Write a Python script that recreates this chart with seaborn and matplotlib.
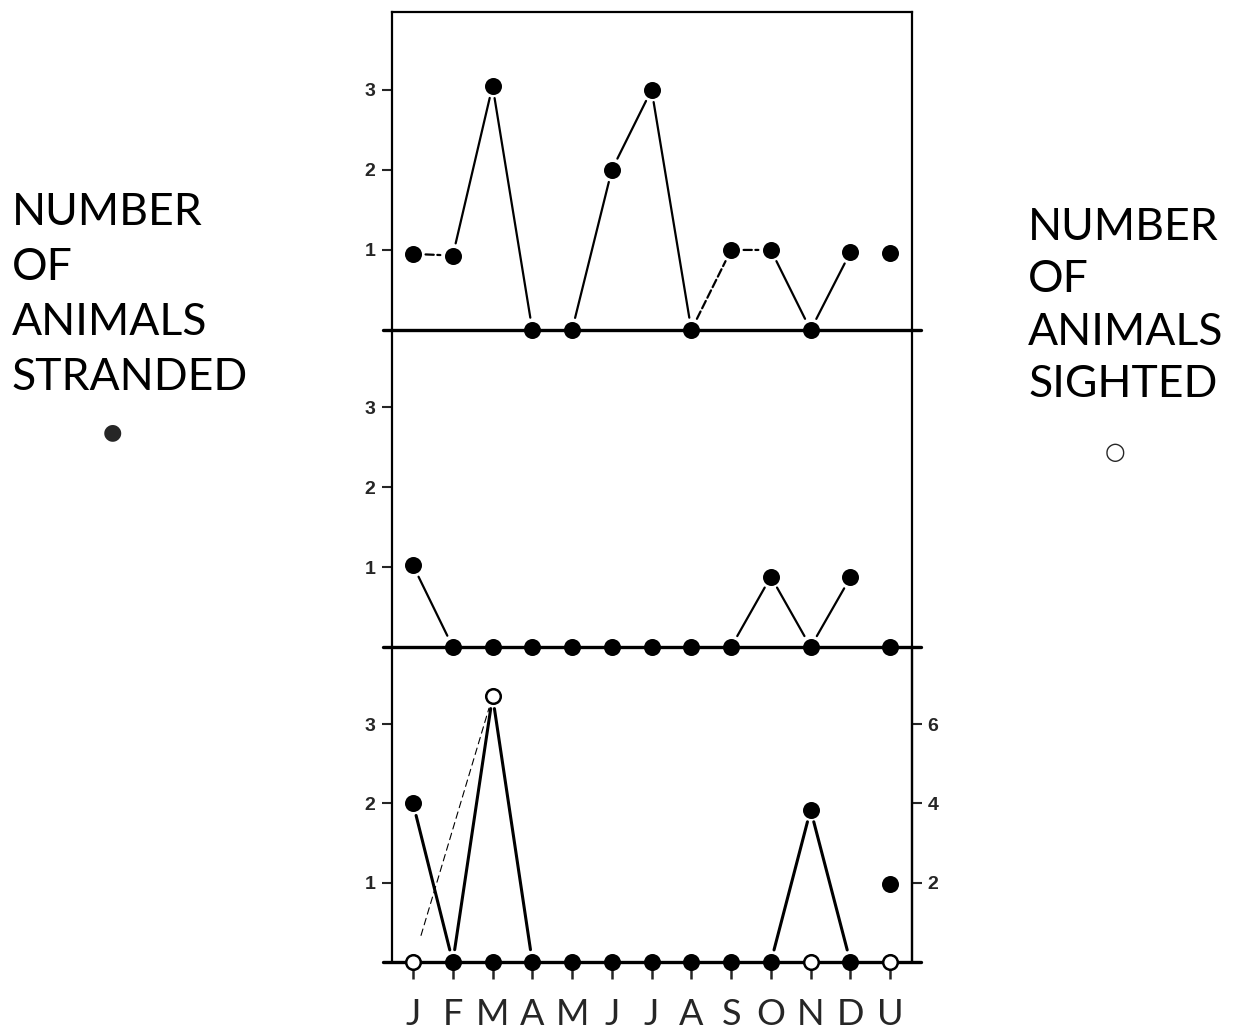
import matplotlib
matplotlib.use("Agg")
import matplotlib.pyplot as plt
import seaborn as sns
import numpy as np
import pandas as pd

# values
months = ['J', 'F', 'M', 'A', 'M', 'J', 'J', 'A', 'S', 'O', 'N', 'D', 'U']
stranded_top = [0.95, 0.93, 3.05, 0, 0, 2.0, 3.0, 0, 1.0, 1.0, 0, 0.97, 0.96]
stranded_mid = [1.02, 0, 0, 0, 0, 0, 0, 0, 0, 0.88, 0, 0.87, 0]
stranded_bot = [2.0, 0, 0, 0, 0, 0, 0, 0, 0, 0, 1.92, 0, 0.98]
sighted_bot = [0, np.nan, 6.7, np.nan, np.nan, np.nan, np.nan, np.nan, np.nan, np.nan, 0, np.nan, 0]

# which neighbouring points are joined (start index, end index, style)
links_top = [(0, 1, '--'), (1, 2, '-'), (2, 3, '-'), (4, 5, '-'), (5, 6, '-'),
             (6, 7, '-'), (7, 8, '--'), (8, 9, '--'), (9, 10, '-'), (10, 11, '-')]
links_mid = [(0, 1, '-'), (8, 9, '-'), (9, 10, '-'), (10, 11, '-')]
links_bot = [(0, 1, '-'), (9, 10, '-'), (10, 11, '-')]

sns.set_style("white")
plt.rcParams['font.family'] = ['Lato', 'DejaVu Sans']

fig = plt.figure(figsize=(12.6, 10.31), dpi=100)
L, W = 0.3111, 0.4127
ax_top = fig.add_axes([L, 0.6799, W, 0.3084])
ax_mid = fig.add_axes([L, 0.3725, W, 0.3075])
ax_bot = fig.add_axes([L, 0.0669, W, 0.3055])
axes = [ax_top, ax_mid, ax_bot]
x = np.arange(len(months))


def join(ax, xs, ys, links, lw=1.6):
    for i, j, ls in links:
        ax.annotate('', xy=(xs[j], ys[j]), xytext=(xs[i], ys[i]),
                    arrowprops=dict(arrowstyle='-', shrinkA=9, shrinkB=9,
                                    lw=lw, ls=ls, color='black'))


for ax, vals, links in zip(axes, [stranded_top, stranded_mid, stranded_bot],
                           [links_top, links_mid, links_bot]):
    df = pd.DataFrame({'x': x, 'y': vals})
    ax.set_xlim(-0.53, 12.55)
    ax.set_ylim(0, 3.97)
    ax.axhline(0, xmin=-0.018, xmax=1.018, color='black', lw=2.4, clip_on=False, zorder=2)
    sns.scatterplot(data=df, x='x', y='y', ax=ax, color='black', s=150,
                    edgecolor='black', linewidth=0, zorder=4, clip_on=False, legend=False)
    join(ax, x, vals, links, lw=1.6 if ax is not ax_bot else 2.2)
    ax.set_yticks([1, 2, 3])
    ax.set_yticklabels(['1', '2', '3'], fontsize=14, fontweight='bold', family='Liberation Sans')
    ax.tick_params(axis='y', direction='out', length=7, width=1.5, left=True, pad=5)
    ax.set_xlabel('')
    ax.set_ylabel('')
    ax.spines['bottom'].set_visible(False)
    for s in ['left', 'right']:
        ax.spines[s].set_linewidth(1.6)
        ax.spines[s].set_color('black')
    ax.spines['top'].set_visible(ax is ax_top)
    ax.spines['top'].set_linewidth(1.6)
    ax.spines['top'].set_color('black')
    ax.patch.set_alpha(0)

for ax in [ax_top, ax_mid]:
    ax.set_xticks([])

# bottom panel: months and sightings on right axis
ax_bot.set_xticks(x)
ax_bot.set_xticklabels(months, fontsize=26)
ax_bot.tick_params(axis='x', direction='out', length=12, width=1.8, bottom=True, pad=14)

ax_r = ax_bot.twinx()
ax_r.set_ylim(0, 7.94)
ax_r.set_yticks([2, 4, 6])
ax_r.set_yticklabels(['2', '4', '6'], fontsize=14, fontweight='bold', family='Liberation Sans')
ax_r.tick_params(axis='y', direction='out', length=7, width=1.5, right=True, pad=4)
for s in ['top', 'bottom', 'left']:
    ax_r.spines[s].set_visible(False)
ax_r.spines['right'].set_linewidth(1.6)
ax_r.spines['right'].set_color('black')
ax_r.grid(False)

sig = pd.DataFrame({'x': x, 'y': sighted_bot}).dropna()
sns.scatterplot(data=sig, x='x', y='y', ax=ax_r, facecolor='white', edgecolor='black',
                linewidth=1.8, s=110, zorder=5, clip_on=False, legend=False)
ax_r.set_ylabel('')

# stranded Feb / sighted Mar / stranded Apr, and the thin dashed sighting line
r2l = 3.97 / 7.94
ax_bot.annotate('', xy=(2, sighted_bot[2] * r2l), xytext=(1, stranded_bot[1]),
                arrowprops=dict(arrowstyle='-', shrinkA=9, shrinkB=9, lw=2.2, color='black'))
ax_bot.annotate('', xy=(3, stranded_bot[3]), xytext=(2, sighted_bot[2] * r2l),
                arrowprops=dict(arrowstyle='-', shrinkA=9, shrinkB=9, lw=2.2, color='black'))
ax_bot.annotate('', xy=(2, sighted_bot[2] * r2l), xytext=(0, sighted_bot[0]),
                arrowprops=dict(arrowstyle='-', shrinkA=20, shrinkB=9, lw=0.8,
                                ls=(0, (6, 4)), color='black'))

# side labels
fig.text(0.0095, 0.814, 'NUMBER\nOF\nANIMALS\nSTRANDED', fontsize=32, va='top', ha='left',
         linespacing=1.43, color='black')
fig.text(0.0889, 0.581, '\u25CF', fontsize=16, ha='center', va='center', family='DejaVu Sans')
fig.text(0.816, 0.799, 'NUMBER\nOF\nANIMALS\nSIGHTED', fontsize=32, va='top', ha='left',
         linespacing=1.34, color='black')
fig.text(0.885, 0.5615, '\u25CB', fontsize=17, ha='center', va='center',
         family='DejaVu Sans', fontweight='bold')

fig.savefig('out.png', dpi=100)
